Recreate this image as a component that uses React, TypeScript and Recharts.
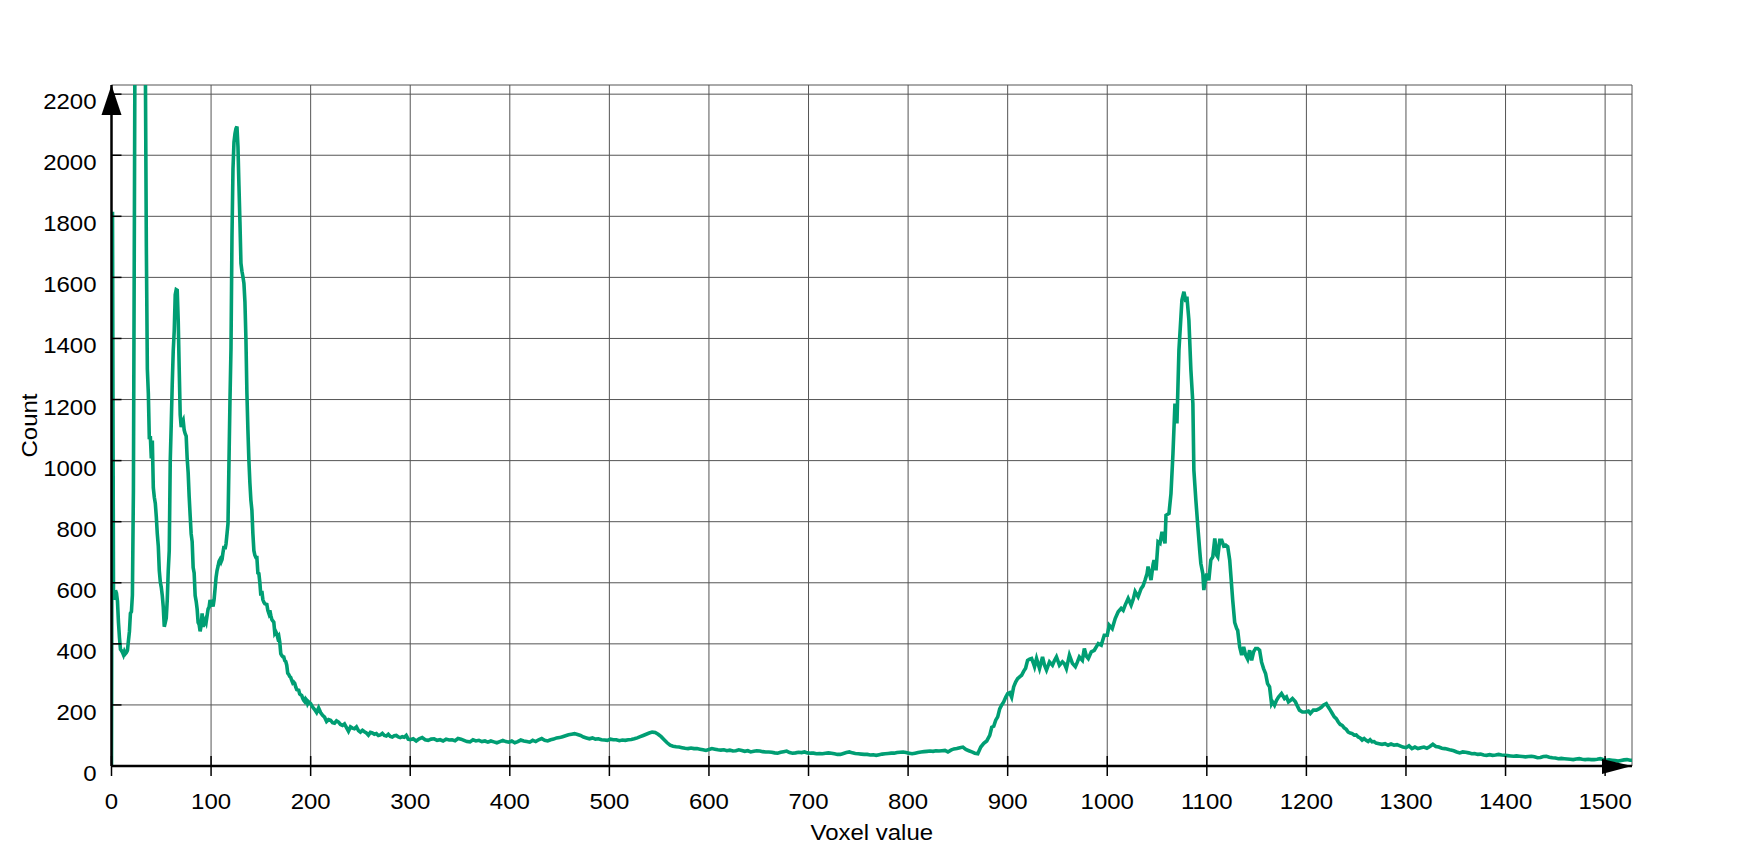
import { LineChart, Line, XAxis, YAxis, CartesianGrid, ReferenceDot } from 'recharts'

// [voxel value, count]
const lowPeaks: [number, number][] = [
  [0, 0], [1, 1815], [2, 560], [3, 545], [4, 575], [5, 566], [6, 540], [7, 470], [8, 420], [9, 382],
  [10, 378], [11, 372], [12, 364], [13, 375], [14, 368], [15, 372], [16, 378], [17, 410], [18, 440], [19, 500],
  [20, 505], [21, 560], [22, 900], [23, 1800], [24, 2800], [26, 3600], [28, 3900], [30, 3700], [32, 3200], [34, 2300],
  [35, 1700], [36, 1300], [37, 1220], [38, 1070], [39, 1080], [40, 1007], [41, 1066], [42, 911], [43, 880], [44, 860],
  [45, 816], [46, 760], [47, 720], [48, 640], [49, 603], [50, 585], [51, 558], [52, 520], [53, 456], [54, 470],
  [55, 485], [56, 544], [57, 640], [58, 705], [59, 1000], [60, 1120], [61, 1250], [62, 1360], [63, 1425], [64, 1543],
  [65, 1560], [66, 1558], [67, 1460], [68, 1300], [69, 1150], [70, 1110], [71, 1125], [72, 1132], [73, 1100], [74, 1088],
  [75, 1080], [76, 1007], [77, 960], [78, 882], [79, 820], [80, 760], [81, 735], [82, 650], [83, 632], [84, 558],
  [85, 540], [86, 514], [87, 470], [88, 463], [89, 441], [90, 460], [91, 500], [92, 456], [93, 470], [94, 478],
  [95, 470], [96, 492], [97, 514], [98, 520], [99, 544], [100, 530], [101, 535], [102, 522], [103, 544], [104, 580],
  [105, 617], [106, 640], [107, 654], [108, 670], [109, 676], [110, 668], [111, 676], [112, 700], [113, 720], [114, 710],
  [115, 727], [116, 760], [117, 794], [118, 1000], [119, 1200], [120, 1367], [121, 1734], [122, 1955], [123, 2043], [124, 2070],
  [125, 2087], [126, 2094], [127, 2028], [128, 1900], [129, 1780], [130, 1646], [131, 1620], [132, 1602], [133, 1580], [134, 1520],
  [135, 1400], [136, 1220], [137, 1100], [138, 1000], [139, 926], [140, 870], [141, 838], [142, 760], [143, 705], [144, 690],
  [145, 683], [146, 683], [147, 632], [148, 630], [149, 600], [150, 558], [151, 573], [152, 545], [153, 536], [154, 531],
  [155, 530], [156, 529], [157, 510], [158, 500], [159, 510],
]

const fallOff: [number, number][] = [
  [160, 493], [161, 480], [162, 475], [163, 471], [164, 435], [165, 440], [166, 433], [167, 420], [168, 425], [169, 405],
  [170, 368], [171, 362], [172, 358], [173, 357], [174, 345], [175, 342], [176, 330], [177, 304], [178, 300], [179, 293],
  [180, 290], [181, 280], [182, 272], [183, 275], [184, 271], [185, 259], [186, 250], [187, 249], [188, 248], [189, 236],
  [190, 233], [191, 231], [192, 222], [193, 215], [194, 211], [195, 220], [196, 216], [197, 204], [198, 210], [200, 204],
  [202, 193], [204, 185], [206, 175], [208, 190], [210, 175], [212, 166], [214, 160], [216, 146], [218, 152], [220, 150],
  [222, 142], [224, 140], [226, 148], [228, 144], [230, 136], [232, 133], [234, 138], [236, 126], [238, 114], [240, 128],
  [242, 124], [244, 122], [246, 128], [248, 116], [250, 111], [252, 117], [254, 112], [256, 108], [258, 101], [260, 110],
  [262, 108], [264, 104], [266, 106], [268, 100], [270, 102], [272, 107], [274, 100], [276, 98], [278, 104], [280, 97],
  [282, 95], [284, 99], [286, 100], [288, 95], [290, 93], [292, 96], [294, 94], [296, 100], [298, 88],
]

const plateau: [number, number][] = [
  [300, 86], [303, 89], [306, 82], [309, 89], [312, 93], [315, 86], [318, 84], [321, 88], [324, 89], [327, 84],
  [330, 86], [333, 82], [336, 88], [339, 85], [342, 86], [345, 83], [348, 90], [351, 88], [354, 84], [357, 80],
  [360, 79], [363, 86], [366, 82], [369, 84], [372, 80], [375, 82], [378, 78], [381, 82], [384, 79], [387, 76],
  [390, 80], [393, 84], [396, 80], [399, 78], [402, 82], [405, 76], [408, 80], [411, 85], [414, 82], [417, 80],
  [420, 78], [423, 84], [426, 80], [429, 86], [432, 90], [435, 84], [438, 82], [441, 86], [444, 88], [447, 92],
  [450, 93], [453, 96], [456, 99], [459, 102], [462, 104], [465, 106], [468, 103], [471, 100], [474, 95], [477, 92],
  [480, 89], [483, 92], [486, 88], [489, 89], [492, 86], [495, 85], [498, 84], [501, 88], [504, 86], [507, 86],
  [510, 83], [513, 85], [516, 84], [519, 86], [522, 87], [525, 89], [528, 92], [531, 96], [534, 100], [537, 104],
  [540, 108], [543, 111], [546, 110], [549, 104], [552, 96], [555, 86], [558, 76], [561, 68], [564, 65], [567, 63],
  [570, 62], [573, 60], [576, 58], [579, 57], [582, 59], [585, 57], [588, 57], [591, 55], [594, 53], [597, 51],
  [600, 54], [603, 57], [606, 55], [609, 53], [612, 52], [615, 53], [618, 50], [621, 52], [624, 49], [627, 50],
  [630, 53], [633, 51], [636, 48], [639, 50], [642, 46], [645, 48], [648, 50], [651, 49], [654, 47], [657, 46],
  [660, 46], [663, 45], [666, 43], [669, 42], [672, 45], [675, 47], [678, 49], [681, 44], [684, 42], [687, 43],
  [690, 45], [693, 44], [696, 46], [699, 43], [702, 42], [705, 42], [708, 40], [711, 41], [714, 40], [717, 42],
  [720, 43], [723, 42], [726, 40], [729, 38], [732, 38], [735, 41], [738, 44], [741, 46], [744, 43], [747, 41],
  [750, 40], [753, 39], [756, 38], [759, 38], [762, 36], [765, 37], [768, 35], [771, 37], [774, 39], [777, 40],
  [780, 41], [783, 42], [786, 42], [789, 44], [792, 45], [795, 46], [798, 44], [801, 42], [804, 40], [807, 42],
  [810, 44], [813, 46], [816, 47], [819, 48], [822, 49], [825, 48], [828, 50], [831, 49], [834, 50], [837, 51],
  [840, 46], [843, 52], [846, 56], [849, 57], [852, 60], [855, 62], [858, 54], [861, 50], [864, 46], [867, 42],
]

const boneRise: [number, number][] = [
  [870, 40], [873, 62], [876, 74], [879, 82], [882, 100], [884, 127], [886, 130], [888, 150], [890, 161], [892, 187],
  [894, 200], [896, 210], [898, 225], [900, 237], [902, 240], [904, 225], [906, 259], [908, 275], [910, 286], [912, 292],
  [914, 297], [916, 310], [918, 320], [920, 346], [922, 350], [924, 352], [926, 335], [927, 325], [929, 352], [931, 330],
  [932, 319], [935, 357], [937, 330], [939, 314], [942, 341], [945, 330], [947, 345], [949, 357], [952, 330], [955, 341],
  [957, 335], [959, 319], [962, 363], [965, 336], [968, 325], [970, 340], [972, 357], [975, 346], [977, 385], [979, 360],
  [981, 352], [984, 374], [987, 379], [989, 390], [991, 401], [994, 396], [997, 428], [1000, 428], [1002, 461], [1005, 450],
  [1008, 483], [1011, 505], [1014, 516], [1016, 510], [1018, 527], [1021, 549], [1024, 527], [1026, 545], [1028, 571], [1031, 554],
  [1034, 581], [1036, 590], [1038, 609], [1040, 630], [1041, 653], [1044, 609], [1046, 660], [1047, 674], [1049, 641], [1051, 734],
  [1053, 729], [1055, 767], [1058, 729], [1059, 821], [1062, 827], [1064, 892], [1066, 1023], [1068, 1187], [1070, 1122], [1072, 1362],
  [1074, 1471], [1075, 1526], [1077, 1553], [1079, 1520], [1080, 1537], [1082, 1460], [1084, 1297], [1086, 1187], [1087, 969], [1089, 871],
  [1091, 783], [1093, 700], [1094, 663], [1096, 630], [1097, 576], [1098, 600],
]

const tail: [number, number][] = [
  [1100, 630], [1102, 608], [1104, 674], [1106, 685], [1108, 745], [1110, 690], [1111, 685], [1113, 739], [1115, 739], [1117, 720],
  [1119, 723], [1121, 718], [1123, 674], [1124, 631], [1126, 543], [1128, 470], [1130, 450], [1131, 444], [1133, 390], [1135, 363],
  [1137, 390], [1139, 363], [1141, 350], [1143, 379], [1145, 346], [1147, 374], [1149, 385], [1151, 385], [1153, 379], [1155, 340],
  [1157, 319], [1159, 303], [1161, 270], [1163, 259], [1165, 204], [1166, 210], [1168, 199], [1170, 215], [1172, 226], [1175, 237],
  [1178, 221], [1180, 226], [1182, 210], [1184, 215], [1186, 221], [1189, 210], [1191, 196], [1193, 183], [1196, 177], [1199, 177],
  [1202, 180], [1204, 172], [1207, 183], [1210, 183], [1213, 188], [1215, 192], [1217, 199], [1220, 204], [1222, 193], [1224, 183],
  [1226, 172], [1228, 161], [1230, 155], [1232, 144], [1234, 136], [1236, 133], [1238, 125], [1240, 120], [1242, 111], [1244, 108],
  [1246, 106], [1248, 101], [1250, 102], [1252, 95], [1254, 92], [1256, 85], [1258, 90], [1260, 84], [1262, 80], [1264, 86],
  [1266, 79], [1268, 80], [1270, 75], [1273, 73], [1276, 71], [1279, 73], [1282, 68], [1285, 72], [1288, 68], [1291, 70],
  [1294, 66], [1297, 62], [1300, 60], [1303, 66], [1306, 57], [1309, 62], [1312, 57], [1315, 60], [1318, 62], [1321, 58],
  [1324, 64], [1327, 71], [1330, 64], [1333, 62], [1336, 58], [1339, 57], [1342, 55], [1345, 52], [1348, 50], [1351, 46],
  [1354, 43], [1357, 46], [1360, 45], [1363, 43], [1366, 40], [1369, 41], [1372, 38], [1375, 39], [1378, 36], [1381, 35],
  [1384, 37], [1387, 35], [1390, 36], [1393, 38], [1396, 36], [1399, 35], [1402, 34], [1405, 33], [1408, 32], [1411, 33],
  [1414, 32], [1417, 31], [1420, 30], [1423, 31], [1426, 32], [1429, 30], [1432, 27], [1435, 28], [1438, 31], [1441, 32],
  [1444, 29], [1447, 27], [1450, 26], [1453, 24], [1456, 25], [1459, 24], [1462, 23], [1465, 22], [1468, 21], [1471, 23],
  [1474, 24], [1477, 22], [1480, 21], [1483, 22], [1486, 21], [1489, 21], [1492, 22], [1495, 24], [1498, 21], [1501, 19],
  [1504, 20], [1507, 19], [1510, 18], [1513, 16], [1516, 18], [1519, 20], [1522, 21], [1525, 19], [1527, 19],
]

const xTicks = [0, 100, 200, 300, 400, 500, 600, 700, 800, 900, 1000, 1100, 1200, 1300, 1400, 1500]
const yTicks = [0, 200, 400, 600, 800, 1000, 1200, 1400, 1600, 1800, 2000, 2200]
const X_MAX = 1527
const Y_MAX = 2230

const data = [...lowPeaks, ...fallOff, ...plateau, ...boneRise, ...tail].map(([voxel, count]) => ({ voxel, count }))

const FONT = '"Liberation Sans", Arial, Helvetica, sans-serif'
const FS = 22
const SX = 1.09
const GREEN = '#009E73'

function XTick({ x, y, payload }: any) {
  return (
    <g>
      <line x1={x} x2={x} y1={y - 10} y2={y + 10} stroke="#000" strokeWidth={1.5} />
      <text transform={`translate(${x},${y + 43}) scale(${SX},1)`} textAnchor="middle"
        fontSize={FS} fontFamily={FONT} fill="#000">{payload.value}</text>
    </g>
  )
}

function YTick({ x, y, payload }: any) {
  return (
    <g>
      <line x1={x} x2={x + 10} y1={y} y2={y} stroke="#000" strokeWidth={1.5} />
      <text transform={`translate(${x - 15},${y + 15}) scale(${SX},1)`} textAnchor="end"
        fontSize={FS} fontFamily={FONT} fill="#000">{payload.value}</text>
    </g>
  )
}

const xTitle = (props: any) => {
  const vb = props.viewBox
  return (
    <text transform={`translate(${vb.x + vb.width / 2},${vb.y + 74}) scale(${SX},1)`} textAnchor="middle"
      fontSize={FS} fontFamily={FONT} fill="#000">Voxel value</text>
  )
}

const yTitle = (props: any) => {
  const vb = props.viewBox
  return (
    <text transform={`translate(36.5,${vb.y + vb.height / 2}) rotate(-90) scale(${SX},1)`} textAnchor="middle"
      fontSize={FS} fontFamily={FONT} fill="#000">Count</text>
  )
}

const upArrow = ({ cx, cy }: any) => (
  <path d={`M${cx},${cy} L${cx - 10},${cy + 30} L${cx + 10},${cy + 30} Z`} fill="#000" />
)
const rightArrow = ({ cx, cy }: any) => (
  <path d={`M${cx},${cy} L${cx - 30},${cy - 7} L${cx - 30},${cy + 8} Z`} fill="#000" />
)

export default function App() {
  return (
    <div style={{ position: 'absolute', left: 0, top: 0, background: '#fff' }}>
      <LineChart width={1744} height={852} data={data} margin={{ top: 85, right: 112, bottom: 56, left: 51.5 }}>
        <CartesianGrid stroke="#555" strokeWidth={1} />
        <XAxis type="number" dataKey="voxel" domain={[0, X_MAX]} ticks={xTicks} allowDataOverflow
          axisLine={{ stroke: '#000', strokeWidth: 2.5 }} tickLine={false} tickSize={0} tickMargin={0}
          tick={<XTick />} interval={0} label={xTitle} />
        <YAxis type="number" domain={[0, Y_MAX]} ticks={yTicks} allowDataOverflow width={60}
          axisLine={{ stroke: '#000', strokeWidth: 2.5 }} tickLine={false} tickSize={0} tickMargin={0}
          tick={<YTick />} interval={0} label={yTitle} />
        <Line type="linear" dataKey="count" stroke={GREEN} strokeWidth={3.6} dot={false} activeDot={false}
          strokeLinejoin="miter" isAnimationActive={false} />
        <ReferenceDot x={0} y={Y_MAX} r={0} shape={upArrow} ifOverflow="visible" />
        <ReferenceDot x={X_MAX} y={0} r={0} shape={rightArrow} ifOverflow="visible" />
      </LineChart>
    </div>
  )
}
